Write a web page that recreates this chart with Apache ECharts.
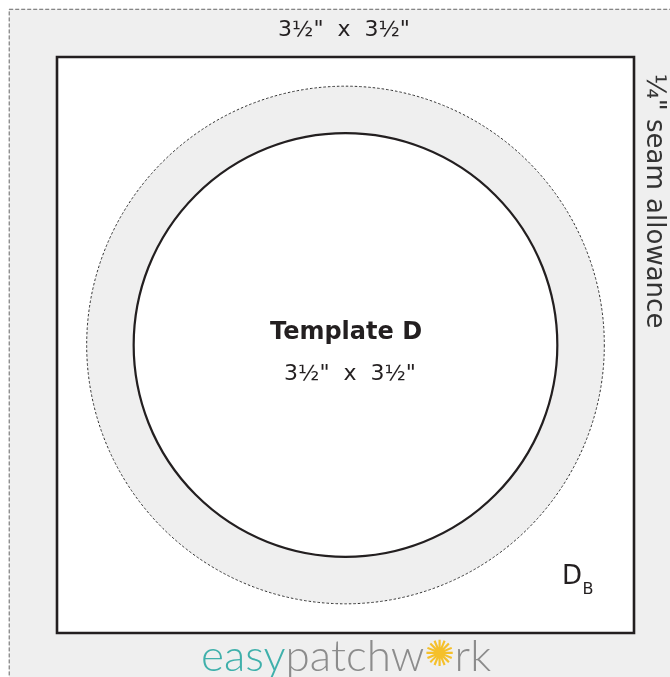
<!DOCTYPE html>
<html>
<head>
<meta charset="utf-8">
<script src="https://cdn.jsdelivr.net/npm/echarts@6/dist/echarts.min.js"></script>
<style>
  html, body { margin: 0; padding: 0; background: #fff; }
  #main { width: 670px; height: 677px; }
</style>
</head>
<body>
<div id="main"></div>
<script>
// template sizes in inches
const squareSide = 3.5
const seamWidth = 0.29
const circleCenter = [1.75, 1.75]
const circleRadii = [1.57, 1.285] // seam line, cutting line
const blockRect = [0, 0, squareSide, squareSide]
const boardRect = [-seamWidth, -seamWidth, squareSide + seamWidth, squareSide + seamWidth]

const sizeLabel = '3½"  x  3½"'
const seamLabel = '¼" seam allowance'
const templateName = 'Template D'
const pieceLabel = ['D', 'B']
const logoParts = ['easy', 'patchw', '✺', 'rk']

var chartDom = document.getElementById('main')
var myChart = echarts.init(chartDom)

const rectItem = (style) => (params, api) => {
  var p0 = api.coord([api.value(0), api.value(3)])
  var p1 = api.coord([api.value(2), api.value(1)])
  return {
    type: 'rect',
    shape: { x: p0[0], y: p0[1], width: p1[0] - p0[0], height: p1[1] - p0[1] },
    style: style,
  }
}

const circleItem = (params, api) => {
  var c = api.coord([api.value(0), api.value(1)])
  var r = api.size([api.value(2), 0])[0]
  var seam = params.dataIndex === 0
  return {
    type: 'circle',
    shape: { cx: c[0], cy: c[1], r: r },
    style: seam
      ? { fill: '#efefef', stroke: '#333', lineWidth: 1, lineDash: [2.5, 2] }
      : { fill: '#fff', stroke: '#231f20', lineWidth: 2.2 },
  }
}

const txt = '#231f20'
const font = '"DejaVu Sans"'

var option = {
  animation: false,
  grid: { left: 57, top: 57, width: 577, height: 576 },
  xAxis: { type: 'value', min: 0, max: squareSide, show: false },
  yAxis: { type: 'value', min: 0, max: squareSide, show: false },
  series: [
    {
      type: 'custom',
      clip: false,
      z: 1,
      renderItem: rectItem({ fill: '#efefef', stroke: '#666', lineWidth: 1, lineDash: [4, 2] }),
      data: [boardRect],
    },
    {
      type: 'custom',
      clip: false,
      z: 2,
      renderItem: rectItem({ fill: '#fff', stroke: txt, lineWidth: 2.6 }),
      data: [blockRect],
    },
    {
      type: 'custom',
      clip: false,
      z: 3,
      renderItem: circleItem,
      data: circleRadii.map((r) => [circleCenter[0], circleCenter[1], r]),
    },
  ],
  graphic: [
    {
      type: 'text', x: 344, y: 30, z: 10,
      style: { text: sizeLabel, font: '22px ' + font, fill: txt, align: 'center', verticalAlign: 'middle' },
    },
    {
      type: 'text', x: 654, y: 201, rotation: -Math.PI / 2, z: 10,
      style: { text: seamLabel, font: '26px ' + font, fill: '#333', align: 'center', verticalAlign: 'middle' },
    },
    {
      type: 'text', x: 346, y: 333, z: 10,
      style: { text: templateName, font: 'bold 24px ' + font, fill: txt, align: 'center', verticalAlign: 'middle' },
    },
    {
      type: 'text', x: 350, y: 374, z: 10,
      style: { text: sizeLabel, font: '22px ' + font, fill: txt, align: 'center', verticalAlign: 'middle' },
    },
    {
      type: 'text', x: 572, y: 577, z: 10,
      style: { text: pieceLabel[0], font: '26px ' + font, fill: txt, align: 'center', verticalAlign: 'middle' },
    },
    {
      type: 'text', x: 588, y: 590, z: 10,
      style: { text: pieceLabel[1], font: '16px ' + font, fill: txt, align: 'center', verticalAlign: 'middle' },
    },
    {
      type: 'text', x: 346, y: 657, z: 10,
      style: {
        text: '{a|' + logoParts[0] + '}{b|' + logoParts[1] + '}{c|' + logoParts[2] + '}{b|' + logoParts[3] + '}',
        align: 'center', verticalAlign: 'middle',
        rich: {
          a: { font: '300 44px Lato', fill: '#3fb0ab' },
          b: { font: '300 44px Lato', fill: '#8c8c8c' },
          c: { font: '36px "DejaVu Sans"', fill: '#f5c02a' },
        },
      },
    },
  ],
}

option && myChart.setOption(option)
window.onresize = () => {
  myChart.resize()
}
</script>
</body>
</html>
